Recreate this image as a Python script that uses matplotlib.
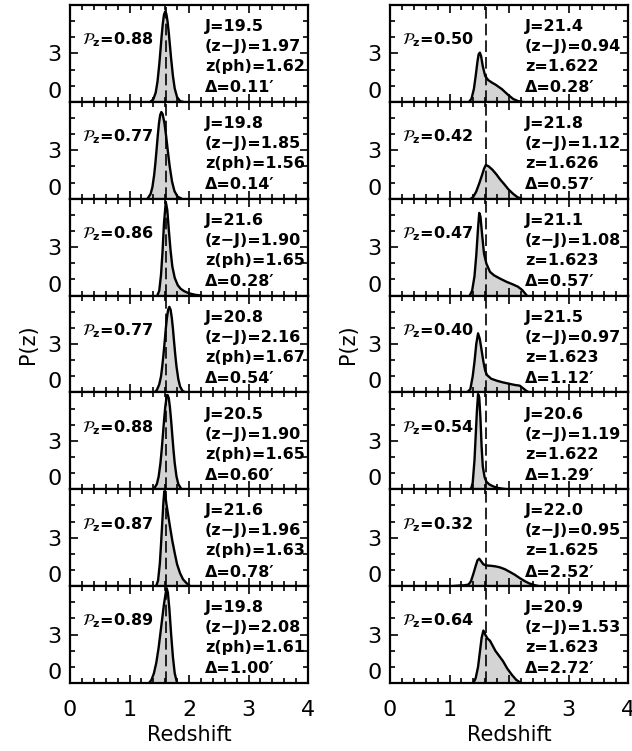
import matplotlib
matplotlib.use("Agg")
import matplotlib.pyplot as plt
from matplotlib.ticker import MultipleLocator

CLUSTER_Z = 1.61  # dashed line in every panel

# left column: photometric-redshift candidates
LEFT_PZ = [0.88, 0.77, 0.86, 0.77, 0.88, 0.87, 0.89]
LEFT_J = [19.5, 19.8, 21.6, 20.8, 20.5, 21.6, 19.8]
LEFT_ZJ = [1.97, 1.85, 1.90, 2.16, 1.90, 1.96, 2.08]
LEFT_ZPH = [1.62, 1.56, 1.65, 1.67, 1.65, 1.63, 1.61]
LEFT_DIST = [0.11, 0.14, 0.28, 0.54, 0.60, 0.78, 1.00]

# right column: spectroscopic members
RIGHT_PZ = [0.50, 0.42, 0.47, 0.40, 0.54, 0.32, 0.64]
RIGHT_J = [21.4, 21.8, 21.1, 21.5, 20.6, 22.0, 20.9]
RIGHT_ZJ = [0.94, 1.12, 1.08, 0.97, 1.19, 0.95, 1.53]
RIGHT_ZSPEC = [1.622, 1.626, 1.623, 1.623, 1.622, 1.625, 1.623]
RIGHT_DIST = [0.28, 0.57, 0.57, 1.12, 1.29, 2.52, 2.72]

# P(z) curves
LEFT_CURVE_Z = [
    [1.36, 1.40, 1.44, 1.47, 1.50, 1.52, 1.54, 1.56, 1.58, 1.60, 1.62, 1.64, 1.66, 1.68, 1.70, 1.73,
     1.76, 1.80, 1.85, 1.90],
    [1.315, 1.355, 1.385, 1.415, 1.435, 1.455, 1.475, 1.495, 1.515, 1.535, 1.555, 1.585, 1.615, 1.645,
     1.675, 1.715, 1.755, 1.805, 1.865],
    [1.47, 1.50, 1.53, 1.555, 1.58, 1.61, 1.635, 1.66, 1.69, 1.72, 1.76, 1.81, 1.86, 1.92, 2.00, 2.10, 2.20],
    [1.42, 1.46, 1.50, 1.53, 1.55, 1.57, 1.59, 1.61, 1.63, 1.65, 1.67, 1.69, 1.71, 1.73, 1.75, 1.77,
     1.79, 1.82, 1.85, 1.89, 1.93],
    [1.42, 1.46, 1.49, 1.52, 1.54, 1.56, 1.58, 1.60, 1.62, 1.64, 1.66, 1.68, 1.70, 1.72, 1.74, 1.76,
     1.79, 1.82, 1.86],
    [1.45, 1.48, 1.51, 1.53, 1.55, 1.57, 1.585, 1.60, 1.62, 1.65, 1.68, 1.72, 1.76, 1.80, 1.85, 1.90,
     1.96, 2.02],
    [1.33, 1.37, 1.41, 1.45, 1.49, 1.52, 1.55, 1.58, 1.61, 1.625, 1.645, 1.67, 1.70, 1.73, 1.76, 1.80],
]
LEFT_CURVE_P = [
    [0.03, 0.16, 0.57, 1.24, 2.3, 3.17, 4.07, 4.86, 5.4, 5.6, 5.44, 4.97, 4.28, 3.48, 2.66, 1.6,
     0.83, 0.29, 0.05, 0.0],
    [0.07, 0.3, 0.72, 1.49, 2.21, 3.04, 3.9, 4.66, 5.18, 5.37, 5.26, 4.74, 3.9, 2.93,
     2.02, 1.06, 0.48, 0.14, 0.02],
    [0.02, 0.3, 1.3, 2.7, 4.5, 5.8, 5.3, 4.1, 2.8, 1.8, 1.1, 0.65, 0.42, 0.27, 0.14, 0.05, 0.0],
    [0.0, 0.15, 0.5, 1.0, 1.6, 2.3, 3.1, 3.95, 4.65, 5.13, 5.3, 5.13, 4.65, 3.95, 3.1, 2.3,
     1.6, 0.83, 0.37, 0.1, 0.02],
    [0.08, 0.33, 0.79, 1.62, 2.4, 3.31, 4.24, 5.06, 5.64, 5.84, 5.64, 5.06, 4.24, 3.31, 2.4, 1.62,
     0.79, 0.33, 0.08],
    [0.02, 0.35, 1.4, 2.6, 3.9, 5.2, 5.87, 5.7, 5.1, 4.4, 3.7, 2.8, 2.05, 1.35, 0.8, 0.42,
     0.18, 0.0],
    [0.0, 0.2, 0.6, 1.25, 2.2, 3.1, 4.0, 4.9, 5.6, 5.87, 5.6, 4.6, 3.0, 1.6, 0.6, 0.0],
]
RIGHT_CURVE_Z = [
    [1.33, 1.37, 1.41, 1.44, 1.47, 1.49, 1.51, 1.53, 1.56, 1.60, 1.65, 1.71, 1.78, 1.88, 1.98, 2.07, 2.15, 2.22],
    [1.36, 1.40, 1.45, 1.50, 1.55, 1.58, 1.61, 1.66, 1.72, 1.79, 1.85, 1.92, 1.99, 2.07, 2.14, 2.21],
    [1.34, 1.38, 1.42, 1.45, 1.48, 1.50, 1.52, 1.55, 1.58, 1.62, 1.68, 1.75, 1.85, 1.96, 2.06, 2.15, 2.22, 2.30],
    [0.95, 1.00, 1.05, 1.10, 1.30, 1.35, 1.39, 1.42, 1.45, 1.48, 1.51, 1.54, 1.57, 1.60, 1.63, 1.70,
     1.80, 1.90, 2.00, 2.10, 2.18, 2.24, 2.29, 2.34],
    [1.36, 1.39, 1.42, 1.44, 1.46, 1.48, 1.50, 1.52, 1.54, 1.56, 1.59, 1.62, 1.67, 1.74, 1.82, 1.90, 1.97],
    [1.05, 1.15, 1.25, 1.32, 1.36, 1.40, 1.44, 1.47, 1.50, 1.53, 1.57, 1.62, 1.70, 1.78, 1.85, 1.93,
     2.02, 2.10, 2.18, 2.26, 2.34, 2.42, 2.50],
    [1.40, 1.44, 1.48, 1.51, 1.54, 1.57, 1.60, 1.64, 1.68, 1.72, 1.77, 1.83, 1.90, 1.97, 2.05, 2.12, 2.20],
]
RIGHT_CURVE_P = [
    [0.0, 0.2, 0.8, 1.6, 2.5, 2.95, 3.05, 2.85, 2.2, 1.6, 1.35, 1.2, 1.05, 0.79, 0.45, 0.18, 0.05, 0.0],
    [0.0, 0.12, 0.45, 0.95, 1.5, 1.85, 2.09, 2.0, 1.8, 1.5, 1.2, 0.9, 0.58, 0.3, 0.1, 0.0],
    [0.0, 0.3, 1.2, 2.5, 4.2, 5.12, 4.9, 3.7, 2.6, 1.98, 1.47, 1.25, 1.05, 0.85, 0.7, 0.55, 0.35, 0.0],
    [0.0, 0.08, 0.0, 0.0, 0.02, 0.2, 1.0, 1.9, 3.0, 3.66, 3.3, 2.6, 1.9, 1.35, 1.08, 0.85,
     0.72, 0.62, 0.54, 0.46, 0.42, 0.25, 0.1, 0.0],
    [0.0, 0.4, 1.8, 3.3, 4.8, 5.9, 5.7, 4.4, 2.6, 1.4, 0.75, 0.47, 0.3, 0.17, 0.08, 0.03, 0.0],
    [0.0, 0.03, 0.05, 0.1, 0.3, 0.75, 1.25, 1.6, 1.7, 1.55, 1.35, 1.28, 1.26, 1.22, 1.16, 1.05,
     0.87, 0.7, 0.5, 0.32, 0.17, 0.07, 0.0],
    [0.0, 0.3, 1.0, 1.9, 2.8, 3.25, 3.0, 2.75, 2.62, 2.35, 2.0, 1.7, 1.35, 0.9, 0.5, 0.2, 0.0],
]

FILL = "#d4d4d4"
INK = "black"

W, H = 632, 751
fig = plt.figure(figsize=(W / 100, H / 100), dpi=100)

col_x = [70 / W, 390 / W]
col_w = 238 / W
top_px, bot_px = 5, 683
n_rows = 7
row_h = (bot_px - top_px) / n_rows


def draw_panel(ax, z, p, pz, lines, last):
    ax.fill_between(z, p, 0, color=FILL, lw=0)
    ax.plot(z, p, color=INK, lw=1.7, solid_joinstyle="round")
    ax.axvline(CLUSTER_Z, color=INK, lw=1.2, ls=(0, (7, 3)))
    ax.set_xlim(0, 4)
    ax.set_ylim(0, 6)
    ax.set_yticks([0, 3, 6])
    ax.set_yticklabels(["0", "3", ""])
    ax.yaxis.set_minor_locator(MultipleLocator(1))
    ax.set_xticks([0, 1, 2, 3, 4])
    ax.xaxis.set_minor_locator(MultipleLocator(0.2))
    ax.tick_params(which="both", direction="in", top=True, right=True, width=1.2, colors=INK)
    ax.tick_params(which="major", length=6)
    ax.tick_params(which="minor", length=3.5)
    ax.tick_params(axis="y", labelsize=16, pad=6)
    ax.tick_params(axis="x", labelsize=16, pad=12, labelbottom=last)
    ax.yaxis.get_major_ticks()[0].label1.set_verticalalignment("bottom")
    for s in ax.spines.values():
        s.set_linewidth(1.6)
    tr = ax.get_xaxis_transform()
    ax.text(0.2, 0.64, r"$\mathcal{P}_\mathbf{z}$" + f"={pz:.2f}", transform=tr,
            fontsize=11.5, fontweight="bold", va="center", ha="left")
    for txt, yy in zip(lines, [0.776, 0.57, 0.364, 0.145]):
        ax.text(2.27, yy, txt, transform=tr, fontsize=11.5, fontweight="bold",
                va="center", ha="left")
    if last:
        ax.set_xlabel("Redshift", fontsize=15, labelpad=4)


for i in range(n_rows):
    y0 = 1 - (top_px + (i + 1) * row_h) / H
    last = i == n_rows - 1

    ax = fig.add_axes([col_x[0], y0, col_w, row_h / H])
    lines = [f"J={LEFT_J[i]:.1f}", f"(z\u2212J)={LEFT_ZJ[i]:.2f}",
             f"z(ph)={LEFT_ZPH[i]:.2f}", f"\u0394={LEFT_DIST[i]:.2f}\u2032"]
    draw_panel(ax, LEFT_CURVE_Z[i], LEFT_CURVE_P[i], LEFT_PZ[i], lines, last)

    ax = fig.add_axes([col_x[1], y0, col_w, row_h / H])
    lines = [f"J={RIGHT_J[i]:.1f}", f"(z\u2212J)={RIGHT_ZJ[i]:.2f}",
             f"z={RIGHT_ZSPEC[i]:.3f}", f"\u0394={RIGHT_DIST[i]:.2f}\u2032"]
    draw_panel(ax, RIGHT_CURVE_Z[i], RIGHT_CURVE_P[i], RIGHT_PZ[i], lines, last)

fig.text(28 / W, 1 - 344 / H, "P(z)", rotation=90, fontsize=15, ha="center", va="center")
fig.text(348 / W, 1 - 344 / H, "P(z)", rotation=90, fontsize=15, ha="center", va="center")

fig.savefig("out.png", dpi=100)
